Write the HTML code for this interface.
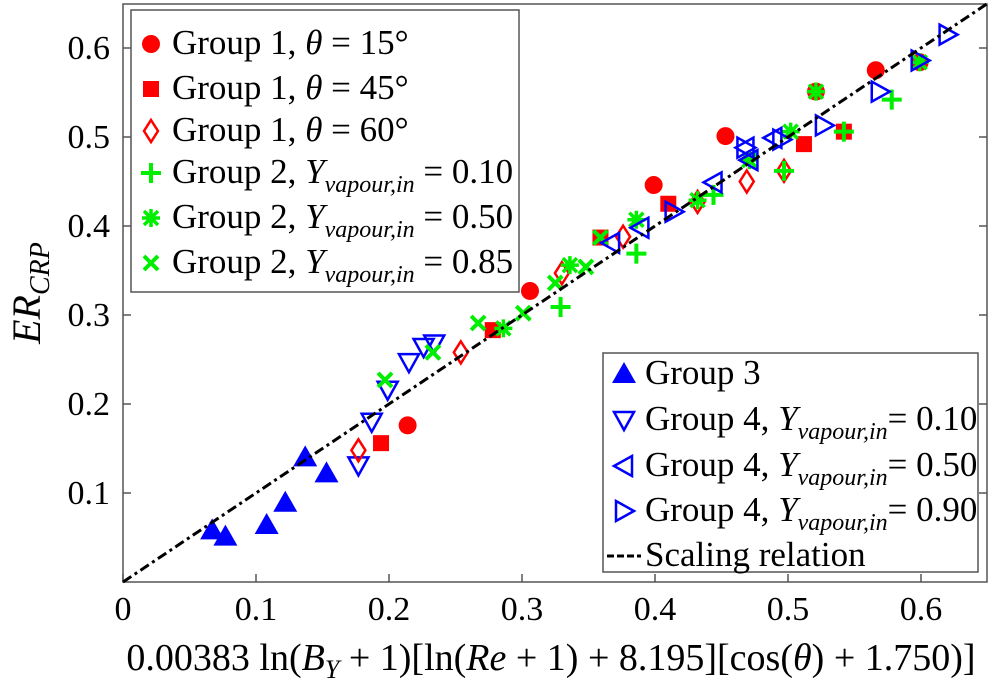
<!DOCTYPE html>
<html><head><meta charset="utf-8"><style>
body{margin:0;background:#fff;}
svg{display:block;}
svg text{font-family:"Liberation Serif","DejaVu Serif",serif;}
</style></head><body>
<svg id="chart" width="996" height="694" viewBox="0 0 996 694" xmlns="http://www.w3.org/2000/svg">
<rect x="123" y="4" width="864" height="578" fill="none" stroke="#555" stroke-width="1.5"/>
<g id="ticks"></g>
<g id="marks"></g>
<text x="40" y="293" font-size="40" font-style="italic" text-anchor="middle" transform="rotate(-90 40 293)">ER<tspan font-size="28" dy="9">CRP</tspan></text>
<text x="551" y="670" font-size="38" text-anchor="middle">0.00383 ln(<tspan font-style="italic">B</tspan><tspan font-size="26" font-style="italic" dy="8">Y</tspan><tspan dy="-8"> + 1)[ln(</tspan><tspan font-style="italic">Re</tspan> + 1) + 8.195][cos(<tspan font-style="italic">θ</tspan>) + 1.750)]</text>
<g id="legend1"><rect x="131" y="10" width="388" height="282" fill="#fff" stroke="#555" stroke-width="1.5"/></g>
<g id="legend2"><rect x="603" y="353" width="375" height="219" fill="#fff" stroke="#555" stroke-width="1.5"/></g>
</svg>
<script>
const xTicks=[0,0.1,0.2,0.3,0.4,0.5,0.6];
const yTicks=[0.1,0.2,0.3,0.4,0.5,0.6];
const xTickLabels=["0","0.1","0.2","0.3","0.4","0.5","0.6"];
const yTickLabels=["0.1","0.2","0.3","0.4","0.5","0.6"];
const g1t15X=[0.566,0.521,0.453,0.399,0.306,0.599,0.214];
const g1t15Y=[0.575,0.551,0.501,0.446,0.327,0.584,0.176];
const g1t45X=[0.512,0.410,0.359,0.542,0.278,0.194];
const g1t45Y=[0.492,0.425,0.387,0.506,0.283,0.156];
const g1t60X=[0.469,0.497,0.376,0.330,0.432,0.254,0.177];
const g1t60Y=[0.450,0.462,0.388,0.347,0.427,0.258,0.148];
const g2y10X=[0.578,0.542,0.497,0.444,0.386,0.329];
const g2y10Y=[0.542,0.506,0.462,0.435,0.369,0.309];
const g2y50X=[0.521,0.599,0.502,0.471,0.432,0.386,0.336,0.286];
const g2y50Y=[0.551,0.584,0.506,0.474,0.429,0.407,0.356,0.285];
const g2y85X=[0.301,0.325,0.348,0.359,0.267,0.233,0.197];
const g2y85Y=[0.302,0.336,0.354,0.387,0.291,0.258,0.227];
const g3X=[0.067,0.077,0.108,0.122,0.137,0.153];
const g3Y=[0.058,0.051,0.064,0.089,0.140,0.122];
const g4y10X=[0.177,0.187,0.199,0.215,0.226,0.234];
const g4y10Y=[0.131,0.180,0.216,0.247,0.264,0.268];
const g4y50X=[0.367,0.389,0.444,0.471,0.489,0.468];
const g4y50Y=[0.381,0.398,0.449,0.474,0.499,0.488];
const g4y90X=[0.414,0.468,0.495,0.527,0.569,0.599,0.620];
const g4y90Y=[0.416,0.488,0.497,0.513,0.551,0.586,0.615];
const lineX=[0,0.65];

const NS="http://www.w3.org/2000/svg";
const X0=123,XS=1330,Y0=582,YS=890;
function sx(v){return X0+v*XS;}
function sy(v){return Y0-v*YS;}
function mk(tag,attrs,parent){const e=document.createElementNS(NS,tag);for(const k in attrs)e.setAttribute(k,attrs[k]);parent.appendChild(e);return e;}
const ticks=document.getElementById('ticks');
xTicks.forEach((v,i)=>{
  const t=mk('line',{x1:sx(v),x2:sx(v),y1:Y0,y2:Y0-8,stroke:'#555','stroke-width':1.5},ticks);
  
  
  const l=mk('text',{x:sx(v),y:620,'font-size':34,'text-anchor':'middle'},ticks);l.textContent=xTickLabels[i];
  
  
});
yTicks.forEach((v,i)=>{
  const t=mk('line',{x1:X0,x2:X0+8,y1:sy(v),y2:sy(v),stroke:'#555','stroke-width':1.5},ticks);
  
  
  mk('line',{x1:987,x2:979,y1:sy(v),y2:sy(v),stroke:'#555','stroke-width':1.5},ticks);
  const l=mk('text',{x:110,y:sy(v)+11,'font-size':34,'text-anchor':'end'},ticks);l.textContent=yTickLabels[i];
  
  
});
const marks=document.getElementById('marks');
function marker(type,cx,cy,parent){
  const g=mk('g',{},parent);
  if(type==='circle')mk('circle',{cx,cy,r:9,fill:'#f00'},g);
  else if(type==='square')mk('rect',{x:cx-8,y:cy-8,width:16,height:16,fill:'#f00'},g);
  else if(type==='diamond')mk('polygon',{points:`${cx},${cy-11} ${cx+7},${cy} ${cx},${cy+11} ${cx-7},${cy}`,fill:'none',stroke:'#f00','stroke-width':2.5},g);
  else if(type==='plus'){mk('path',{d:`M${cx-10},${cy}H${cx+10}M${cx},${cy-10}V${cy+10}`,stroke:'#0e0','stroke-width':4},g);}
  else if(type==='star'){mk('path',{d:`M${cx-9},${cy}H${cx+9}M${cx},${cy-9}V${cy+9}M${cx-7},${cy-7}L${cx+7},${cy+7}M${cx-7},${cy+7}L${cx+7},${cy-7}`,stroke:'#0e0','stroke-width':3.5},g);}
  else if(type==='x'){mk('path',{d:`M${cx-7},${cy-7}L${cx+7},${cy+7}M${cx-7},${cy+7}L${cx+7},${cy-7}`,stroke:'#0e0','stroke-width':4},g);}
  else if(type==='up')mk('polygon',{points:`${cx},${cy-12} ${cx+12},${cy+9} ${cx-12},${cy+9}`,fill:'#00f'},g);
  else if(type==='down')mk('polygon',{points:`${cx-10},${cy-8} ${cx+10},${cy-8} ${cx},${cy+10}`,fill:'none',stroke:'#00f','stroke-width':2.5},g);
  else if(type==='left')mk('polygon',{points:`${cx-10},${cy} ${cx+8},${cy-10} ${cx+8},${cy+10}`,fill:'none',stroke:'#00f','stroke-width':2.5},g);
  else if(type==='right')mk('polygon',{points:`${cx+10},${cy} ${cx-8},${cy-10} ${cx-8},${cy+10}`,fill:'none',stroke:'#00f','stroke-width':2.5},g);
  return g;
}
const series=[
 ['up',g3X,g3Y,'group3'],['down',g4y10X,g4y10Y,'group4-y010'],
 ['circle',g1t15X,g1t15Y,'group1-theta15'],['square',g1t45X,g1t45Y,'group1-theta45'],['diamond',g1t60X,g1t60Y,'group1-theta60'],
 ['plus',g2y10X,g2y10Y,'group2-y010'],['star',g2y50X,g2y50Y,'group2-y050'],['x',g2y85X,g2y85Y,'group2-y085'],
 ['left',g4y50X,g4y50Y,'group4-y050'],['right',g4y90X,g4y90Y,'group4-y090']];
series.forEach(s=>{
  s[1].forEach((xv,i)=>{
    const m=marker(s[0],sx(xv),sy(s[2][i]),marks);
    
    
  });
});
const ln=mk('line',{x1:sx(lineX[0]),y1:sy(lineX[0]),x2:sx(lineX[1]),y2:sy(lineX[1]),stroke:'#000','stroke-width':3,'stroke-dasharray':'10 4 3 4'},marks);



function legendEntry(parent,type,y,html,name,mx){
  const g=mk('g',{},parent);
  
  
  if(type==='line')mk('line',{x1:607,x2:641,y1:y-10,y2:y-10,stroke:'#000','stroke-width':3,'stroke-dasharray':'7 3'},g);
  else marker(type,mx,y-10,g);
  const t=mk('text',{x:mx+21,y:y,'font-size':35},g);t.innerHTML=html;
}
const L1=document.getElementById('legend1');
const sub='<tspan font-style="italic">Y</tspan><tspan font-style="italic" font-size="24" dy="9">vapour,in</tspan><tspan dy="-9">';
legendEntry(L1,'circle',54,'Group 1, <tspan font-style="italic">θ</tspan> = 15°','legend-group1-theta15',151);
legendEntry(L1,'square',99,'Group 1, <tspan font-style="italic">θ</tspan> = 45°','legend-group1-theta45',151);
legendEntry(L1,'diamond',141,'Group 1, <tspan font-style="italic">θ</tspan> = 60°','legend-group1-theta60',151);
legendEntry(L1,'plus',183,'Group 2, '+sub+' = 0.10</tspan>','legend-group2-y010',151);
legendEntry(L1,'star',228,'Group 2, '+sub+' = 0.50</tspan>','legend-group2-y050',151);
legendEntry(L1,'x',273,'Group 2, '+sub+' = 0.85</tspan>','legend-group2-y085',151);
const L2=document.getElementById('legend2');
legendEntry(L2,'up',384,'Group 3','legend-group3',624);
legendEntry(L2,'down',430,'Group 4, '+sub+'= 0.10</tspan>','legend-group4-y010',624);
legendEntry(L2,'left',476,'Group 4, '+sub+'= 0.50</tspan>','legend-group4-y050',624);
legendEntry(L2,'right',521,'Group 4, '+sub+'= 0.90</tspan>','legend-group4-y090',624);
legendEntry(L2,'line',566,'Scaling relation','legend-scaling-relation',624);
</script>
</body></html>
